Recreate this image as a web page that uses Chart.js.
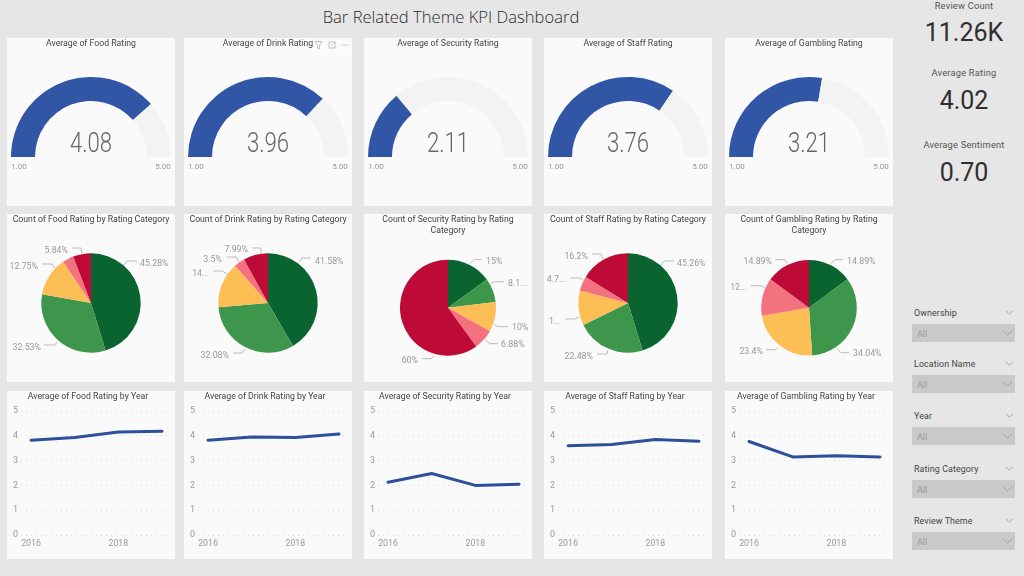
<!DOCTYPE html>
<html><head><meta charset="utf-8">
<script src="https://cdn.jsdelivr.net/npm/chart.js@4"></script>
<style>
html,body{margin:0;padding:0;width:1024px;height:576px;overflow:hidden;background:#e6e6e6;font-family:Roboto,sans-serif}
.panel{position:absolute;width:168px;height:168px;background:#fafafa}
.panel canvas{position:absolute;left:0;top:0}
.t{position:absolute;white-space:nowrap;transform:translate(-50%,-50%)}
.card-l{font-size:9.3px;color:#555;letter-spacing:.2px}
.card-v{font-size:25px;color:#2f2f2f;letter-spacing:0}
.sl{position:absolute;left:914px;font-size:8.9px;color:#444;transform:translateY(-50%);letter-spacing:.1px}
.box{position:absolute;left:912px;width:103px;height:18px;background:#c9c9c9}
.box span{position:absolute;left:5px;top:4.5px;font-size:9px;color:#999}
svg{position:absolute;overflow:visible}
</style></head><body>
<div class="t" style="left:451px;top:16px;font:300 16.6px 'Open Sans',sans-serif;color:#2a2a2a">Bar Related Theme KPI Dashboard</div>
<div id="root"></div>
<script>
const themes = ['Food','Drink','Security','Staff','Gambling'];
const gaugeValues = [4.08,3.96,2.11,3.76,3.21];
const gaugeMin = 1, gaugeMax = 5;
const ratingCategories = ['5','4','3','2','1'];
const foodCounts = [45.28,32.53,12.75,3.6,5.84];
const drinkCounts = [41.58,32.08,14.85,3.5,7.99];
const securityCounts = [15,8.12,10,6.88,60];
const staffCounts = [45.26,22.48,11.3,4.76,16.2];
const gamblingCounts = [14.89,34.04,23.4,12.78,14.89];
const foodLabels = ['45.28%','32.53%','12.75%','','5.84%'];
const drinkLabels = ['41.58%','32.08%','14...','3.5%','7.99%'];
const securityLabels = ['15%','8.1...','10%','6.88%','60%'];
const staffLabels = ['45.26%','22.48%','1...','4.7...','16.2%'];
const gamblingLabels = ['14.89%','34.04%','23.4%','12...','14.89%'];
const years = [2016,2017,2018,2019];
const foodByYear = [3.82,3.93,4.15,4.18];
const drinkByYear = [3.82,3.95,3.93,4.07];
const securityByYear = [2.13,2.48,2.0,2.05];
const staffByYear = [3.6,3.65,3.85,3.78];
const gamblingByYear = [3.77,3.15,3.2,3.15];
const yTicks = [0,1,2,3,4,5];
const xTicks = [2016,2018];
const cards = [['Review Count','11.26K',5,32],['Average Rating','4.02',72,99.5],['Average Sentiment','0.70',144,171.5]];
const slicers = ['Ownership','Location Name','Year','Rating Category','Review Theme'];

/* layout tables */
const colX = [7,184,364,544,725];
const sliceColors = ['#0a6430','#3d964b','#fdbf55','#f4717f','#bd0a36'];
const sliceData = [foodCounts,drinkCounts,securityCounts,staffCounts,gamblingCounts];
const sliceLabels = [foodLabels,drinkLabels,securityLabels,staffLabels,gamblingLabels];
const lineData = [foodByYear,drinkByYear,securityByYear,staffByYear,gamblingByYear];
const pieTitles = [
 ['Count of Food Rating by Rating Category'],
 ['Count of Drink Rating by Rating Category'],
 ['Count of Security Rating by Rating','Category'],
 ['Count of Staff Rating by Rating Category'],
 ['Count of Gambling Rating by Rating','Category']];
const pieGeom = [{r:49.7,cy:89},{r:49.7,cy:89},{r:48,cy:93.7},{r:49.7,cy:89},{r:47.8,cy:93.7}];
/* callouts: leader start, elbow, end (offset from pie centre), then text x, text y, align */
const callouts = [
 [[33,-38,36,-42,46,-42,49,-40,'left'],[-34,39,-36,42,-47,42,-50,44,'right'],[-36,-35,-39,-39,-49,-39,-53,-37,'right'],null,[-9,-50,-10,-55,-19,-55,-23,-53,'right']],
 [[31,-41,34,-45,43,-45,47,-42,'left'],[-23,46,-26,50,-35,50,-39,52,'right'],[-41,-29,-46,-32,-55,-32,-59,-30,'right'],[-29,-41,-32,-46,-41,-46,-46,-44,'right'],[-7,-50,-7,-55,-16,-55,-20,-54,'right']],
 [[22,-44,26,-48,34,-48,38,-46,'left'],[43,-24,46,-26,56,-26,60,-24,'left'],[46,17,50,19,60,19,64,20,'left'],[37,32,42,36,50,36,53,37,'left'],[-14,48,-17,51,-26,51,-30,53,'right']],
 [[33,-38,36,-42,46,-42,49,-40,'left'],[-20,47,-21,51,-31,51,-35,53,'right'],[-49,14,-53,16,-63,16,-67,18,'right'],[-45,-23,-48,-25,-58,-25,-62,-24,'right'],[-25,-44,-27,-49,-36,-49,-40,-47,'right']],
 [[22,-44,26,-48,34,-48,38,-46,'left'],[28,41,32,45,40,45,44,46,'left'],[-31,40,-33,42,-43,42,-46,44,'right'],[-44,-20,-48,-22,-58,-22,-62,-20,'right'],[-22,-44,-24,-48,-34,-48,-37,-46,'right']]];

Chart.defaults.animation = false;
Chart.defaults.responsive = false;
Chart.defaults.font.family = 'Roboto, sans-serif';
Chart.defaults.events = [];
const titleSize = 8.7;
const titleTop = 1;
const titleFont = {size:titleSize,weight:'400',lineHeight:1.2};
const titleColor = '#444';

const gaugeText = {id:'gaugeText',afterDraw(c,_,o){
  const a=c.getDatasetMeta(0).data[0], x=a.x, y=a.y, g=c.ctx; g.save();
  g.textAlign='center'; g.textBaseline='middle';
  g.fillStyle='#666'; g.font='300 27px Roboto, sans-serif';
  g.save(); g.translate(x,y-12); g.scale(.82,1); g.fillText(o.value,0,0); g.restore();
  g.fillStyle='#999'; g.font='8px Roboto, sans-serif';
  g.fillText(o.min,x-72,y+10); g.fillText(o.max,x+72,y+10);
  g.restore();}};
const pieCallouts = {id:'pieCallouts',afterDraw(c,_,o){
  const a=c.getDatasetMeta(0).data[0], x=a.x, y=a.y, g=c.ctx; g.save();
  g.font='8.8px Roboto, sans-serif'; g.textBaseline='middle';
  o.items.forEach((p,i)=>{ if(!p) return;
    g.strokeStyle='#bbb'; g.lineWidth=1; g.beginPath();
    g.moveTo(x+p[0],y+p[1]); g.lineTo(x+p[2],y+p[3]); g.lineTo(x+p[4],y+p[5]); g.stroke();
    g.fillStyle='#999'; g.textAlign=p[8]; g.fillText(o.labels[i],x+p[6],y+p[7]+.5);
  });
  g.restore();}};

const root=document.getElementById('root');
function makePanel(x,y,h){
  const d=document.createElement('div'); d.className='panel';
  d.style.left=x+'px'; d.style.top=y+'px'; d.style.height=h+'px';
  const cv=document.createElement('canvas'); cv.width=168; cv.height=h; cv.style.width='168px'; cv.style.height=h+'px';
  d.appendChild(cv); root.appendChild(d); return cv;
}
themes.forEach((name,i)=>{
  /* gauge */
  new Chart(makePanel(colX[i],38,168),{type:'doughnut',plugins:[gaugeText],
    data:{labels:['Value','Remaining'],datasets:[{data:[gaugeValues[i]-gaugeMin,gaugeMax-gaugeValues[i]],backgroundColor:['#3056a5','#f3f3f3'],borderWidth:0}]},
    options:{rotation:-90,circumference:180,cutout:'70%',layout:{padding:{left:0,right:0,top:0,bottom:49}},
      plugins:{legend:{display:false},tooltip:{enabled:false},
        title:{display:true,text:'Average of '+name+' Rating',font:titleFont,color:titleColor,padding:{top:titleTop,bottom:39-titleTop-titleSize*1.2}},
        gaugeText:{value:gaugeValues[i].toFixed(2),min:gaugeMin.toFixed(2),max:gaugeMax.toFixed(2)}}}});
  /* pie */
  const g=pieGeom[i], lines=pieTitles[i].length, th=lines*titleSize*1.2;
  const top=g.cy-g.r, bottom=168-(g.cy+g.r);
  new Chart(makePanel(colX[i],214,168),{type:'pie',plugins:[pieCallouts],
    data:{labels:ratingCategories,datasets:[{data:sliceData[i],backgroundColor:sliceColors,borderWidth:0}]},
    options:{layout:{padding:{left:0,right:0,top:0,bottom:bottom}},
      plugins:{legend:{display:false},tooltip:{enabled:false},
        title:{display:true,text:pieTitles[i],font:titleFont,color:titleColor,padding:{top:titleTop,bottom:top-titleTop-th}},
        pieCallouts:{items:callouts[i],labels:sliceLabels[i]}}}});
  /* line */
  new Chart(makePanel(colX[i],390.5,168),{type:'line',
    data:{datasets:[{data:years.map((yr,k)=>({x:yr,y:lineData[i][k]})),borderColor:'#2f4f9b',borderWidth:3,pointRadius:0,tension:0,borderCapStyle:'round',borderJoinStyle:'round'}]},
    options:{layout:{padding:{left:0,right:6,top:0,bottom:0}},
      plugins:{legend:{display:false},tooltip:{enabled:false},
        title:{display:true,text:'Average of '+name+' Rating by Year',font:titleFont,color:titleColor,padding:{top:titleTop,bottom:20-titleTop-titleSize*1.2}}},
      scales:{
        x:{type:'linear',min:2015.77,max:2019.16,grid:{display:false,drawTicks:false},border:{display:false},
          afterBuildTicks:s=>{s.ticks=xTicks.map(v=>({value:v}));},
          afterFit:s=>{s.height=24;},
          ticks:{callback:v=>String(v),color:'#999',font:{size:8.8},padding:4,maxRotation:0,autoSkip:false}},
        y:{min:0,max:5,grid:{color:'#dcdcdc',drawTicks:false,lineWidth:1},border:{display:false,dash:[1,4]},
          afterBuildTicks:s=>{s.ticks=yTicks.map(v=>({value:v}));},
          afterFit:s=>{s.width=14;},
          ticks:{color:'#999',font:{size:9},padding:3}}}}});
});
cards.forEach(c=>{
  root.insertAdjacentHTML('beforeend',`<div class="t card-l" style="left:964px;top:${c[2]}px">${c[0]}</div><div class="t card-v" style="left:964px;top:${c[3]}px">${c[1]}</div>`);
});
const chev=(x,y,w,col)=>`<svg style="left:${x}px;top:${y}px" width="${w}" height="${w/2}"><polyline points="0,0 ${w/2},${w/2-.5} ${w},0" fill="none" stroke="${col}" stroke-width="0.8"/></svg>`;
const sliY=[313,364,416,469,521], boxY=[324,375,427,480,532];
slicers.forEach((s,i)=>{
  root.insertAdjacentHTML('beforeend',`<div class="sl" style="top:${sliY[i]}px">${s}</div>${chev(1006,sliY[i]-2,7,'#999')}<div class="box" style="top:${boxY[i]}px"><span>All</span></div>${chev(1003,boxY[i]+7,9,'#999')}`);
});
/* hover icons on the Drink gauge */
root.insertAdjacentHTML('beforeend',`<svg style="left:314px;top:38px" width="38" height="14"><rect width="38" height="14" fill="#fbfbfb"/><path d="M1 3.5h7L5.5 7v4l-2 -1V7z" fill="none" stroke="#aaa" stroke-width=".7"/><rect x="15" y="4" width="6" height="6" fill="none" stroke="#aaa" stroke-width=".7"/><path d="M17 8l4-4" stroke="#aaa" stroke-width=".6"/><path d="M28 7h7" stroke="#aaa" stroke-width="1" stroke-dasharray="1.2 1.2"/></svg>`);
</script>
</body></html>
